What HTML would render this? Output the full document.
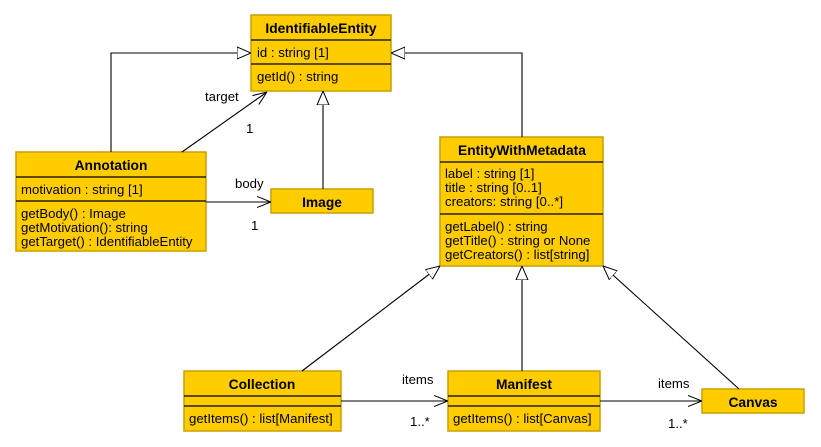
<!DOCTYPE html>
<html><head><meta charset="utf-8"><style>
html,body{margin:0;padding:0;background:#fff;}
svg{display:block;font-family:"Liberation Sans",sans-serif;}
.b{fill:#ffcc00;stroke:#c9a100;stroke-width:1.5;}
.s{stroke:#000;stroke-width:1.2;}
.t{font-size:13.2px;fill:#000;}
.h{font-size:13.8px;font-weight:bold;fill:#000;}
.l{fill:none;stroke:#000;stroke-width:1.1;}
</style></head><body>
<svg width="821" height="447" viewBox="0 0 821 447" xmlns="http://www.w3.org/2000/svg">
<defs>
<marker id="tri" viewBox="0 0 14 14" refX="14" refY="7" markerWidth="14" markerHeight="14" markerUnits="userSpaceOnUse" orient="auto">
<path d="M0,1 L14,7 L0,13 Z" fill="#fff" stroke="#000" stroke-width="1"/></marker>
<marker id="arr" viewBox="0 0 14 14" refX="14" refY="7" markerWidth="14" markerHeight="14" markerUnits="userSpaceOnUse" orient="auto">
<path d="M0,1.5 L14,7 L0,12.5" fill="none" stroke="#000" stroke-width="1"/></marker>
</defs>

<rect class="b" x="251" y="15" width="140" height="76"/>
<line class="s" x1="251" y1="40" x2="391" y2="40"/>
<line class="s" x1="251" y1="64" x2="391" y2="64"/>
<text class="h" x="321" y="33" text-anchor="middle">IdentifiableEntity</text>
<text class="t" x="257" y="57">id : string [1]</text>
<text class="t" x="257" y="81">getId() : string</text>

<rect class="b" x="16" y="152" width="190" height="99"/>
<line class="s" x1="16" y1="177" x2="206" y2="177"/>
<line class="s" x1="16" y1="201" x2="206" y2="201"/>
<text class="h" x="111" y="170" text-anchor="middle">Annotation</text>
<text class="t" x="21" y="194">motivation : string [1]</text>
<text class="t" x="21" y="218">getBody() : Image</text>
<text class="t" x="21" y="232">getMotivation(): string</text>
<text class="t" x="21" y="246">getTarget() : IdentifiableEntity</text>

<rect class="b" x="271" y="189" width="102" height="24"/>
<text class="h" x="322" y="207" text-anchor="middle">Image</text>

<rect class="b" x="440" y="137" width="163" height="129"/>
<line class="s" x1="440" y1="162" x2="603" y2="162"/>
<line class="s" x1="440" y1="214" x2="603" y2="214"/>
<text class="h" x="522" y="155" text-anchor="middle">EntityWithMetadata</text>
<text class="t" x="445" y="178">label : string [1]</text>
<text class="t" x="445" y="192">title : string [0..1]</text>
<text class="t" x="445" y="206">creators: string [0..*]</text>
<text class="t" x="445" y="231">getLabel() : string</text>
<text class="t" x="445" y="245">getTitle() : string or None</text>
<text class="t" x="445" y="259">getCreators() : list[string]</text>

<rect class="b" x="184" y="371" width="157" height="60"/>
<line class="s" x1="184" y1="396" x2="341" y2="396"/>
<line class="s" x1="184" y1="406" x2="341" y2="406"/>
<text class="h" x="262" y="389" text-anchor="middle">Collection</text>
<text class="t" x="189" y="423">getItems() : list[Manifest]</text>

<rect class="b" x="448" y="371" width="152" height="60"/>
<line class="s" x1="448" y1="396" x2="600" y2="396"/>
<line class="s" x1="448" y1="406" x2="600" y2="406"/>
<text class="h" x="524" y="389" text-anchor="middle">Manifest</text>
<text class="t" x="453" y="423">getItems() : list[Canvas]</text>

<rect class="b" x="702" y="389" width="102" height="24"/>
<text class="h" x="753" y="407" text-anchor="middle">Canvas</text>

<path class="l" d="M111,152 V53 H251" marker-end="url(#tri)"/>
<path class="l" d="M522,137 V53 H391" marker-end="url(#tri)"/>
<path class="l" d="M182,152 L267,92" marker-end="url(#arr)"/>
<path class="l" d="M323,189 V91" marker-end="url(#tri)"/>
<path class="l" d="M206,202 H271" marker-end="url(#arr)"/>
<path class="l" d="M302,371 L440,266" marker-end="url(#tri)"/>
<path class="l" d="M522,371 V266" marker-end="url(#tri)"/>
<path class="l" d="M739,389 L603,266" marker-end="url(#tri)"/>
<path class="l" d="M341,401 H448" marker-end="url(#arr)"/>
<path class="l" d="M600,401 H702" marker-end="url(#arr)"/>

<text class="t" x="205" y="101">target</text>
<text class="t" x="246" y="133">1</text>
<text class="t" x="235" y="188">body</text>
<text class="t" x="251" y="230">1</text>
<text class="t" x="402" y="384">items</text>
<text class="t" x="410" y="426">1..*</text>
<text class="t" x="658" y="388">items</text>
<text class="t" x="668" y="428">1..*</text>
</svg>
</body></html>
